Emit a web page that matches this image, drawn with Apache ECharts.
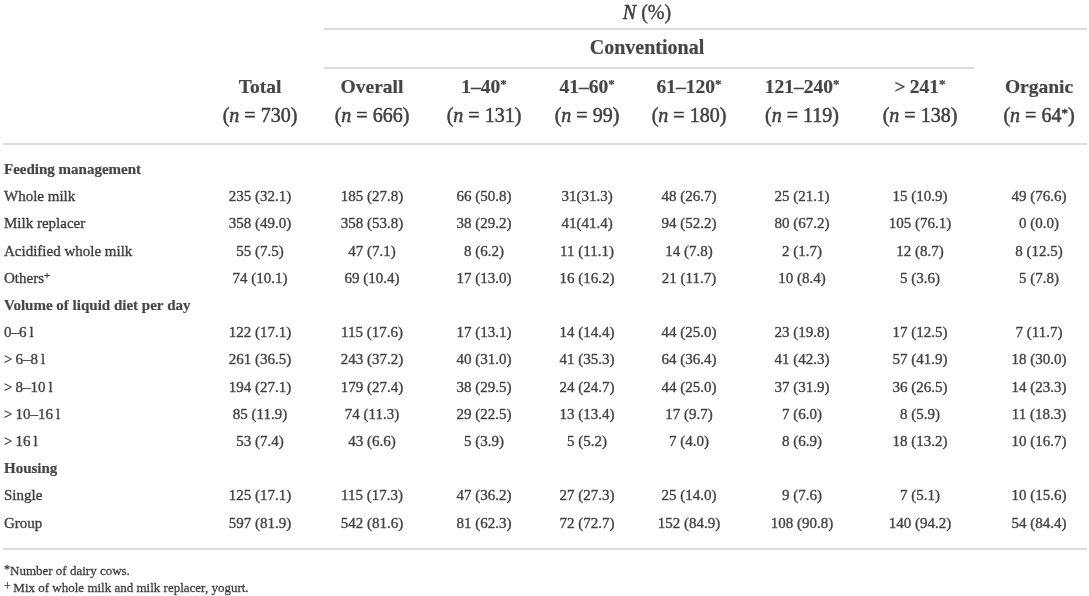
<!DOCTYPE html>
<html>
<head>
<meta charset="utf-8">
<script src="https://cdn.jsdelivr.net/npm/echarts@6/dist/echarts.min.js"></script>
<style>
  html, body { margin: 0; padding: 0; background: #ffffff; }
  #chart { width: 1089px; height: 596px; }
</style>
</head>
<body>
<div id="chart"></div>
<script>
// ---------- DATA ----------
const spanTitle = 'N (%)';
const groupTitle = 'Conventional';
const columnNames = ['Total', 'Overall', '1–40*', '41–60*', '61–120*', '121–240*', '>\u2009241*', 'Organic'];
const columnN = ['730', '666', '131', '99', '180', '119', '138', '64*'];

const sections = ['Feeding management', 'Volume of liquid diet per day', 'Housing'];
const feedingRows = ['Whole milk', 'Milk replacer', 'Acidified whole milk', 'Others+'];
const volumeRows = ['0–6\u2009l', '>\u20096–8\u2009l', '>\u20098–10\u2009l', '>\u200910–16\u2009l', '>\u200916\u2009l'];
const housingRows = ['Single', 'Group'];

const colTotal   = ['235 (32.1)', '358 (49.0)', '55 (7.5)', '74 (10.1)', '122 (17.1)', '261 (36.5)', '194 (27.1)', '85 (11.9)', '53 (7.4)', '125 (17.1)', '597 (81.9)'];
const colOverall = ['185 (27.8)', '358 (53.8)', '47 (7.1)', '69 (10.4)', '115 (17.6)', '243 (37.2)', '179 (27.4)', '74 (11.3)', '43 (6.6)', '115 (17.3)', '542 (81.6)'];
const col1to40   = ['66 (50.8)', '38 (29.2)', '8 (6.2)', '17 (13.0)', '17 (13.1)', '40 (31.0)', '38 (29.5)', '29 (22.5)', '5 (3.9)', '47 (36.2)', '81 (62.3)'];
const col41to60  = ['31(31.3)', '41(41.4)', '11 (11.1)', '16 (16.2)', '14 (14.4)', '41 (35.3)', '24 (24.7)', '13 (13.4)', '5 (5.2)', '27 (27.3)', '72 (72.7)'];
const col61to120 = ['48 (26.7)', '94 (52.2)', '14 (7.8)', '21 (11.7)', '44 (25.0)', '64 (36.4)', '44 (25.0)', '17 (9.7)', '7 (4.0)', '25 (14.0)', '152 (84.9)'];
const col121to240 = ['25 (21.1)', '80 (67.2)', '2 (1.7)', '10 (8.4)', '23 (19.8)', '41 (42.3)', '37 (31.9)', '7 (6.0)', '8 (6.9)', '9 (7.6)', '108 (90.8)'];
const colOver241 = ['15 (10.9)', '105 (76.1)', '12 (8.7)', '5 (3.6)', '17 (12.5)', '57 (41.9)', '36 (26.5)', '8 (5.9)', '18 (13.2)', '7 (5.1)', '140 (94.2)'];
const colOrganic = ['49 (76.6)', '0 (0.0)', '8 (12.5)', '5 (7.8)', '7 (11.7)', '18 (30.0)', '14 (23.3)', '11 (18.3)', '10 (16.7)', '10 (15.6)', '54 (84.4)'];

const footnotes = ['*Number of dairy cows.', '+\u2009Mix of whole milk and milk replacer, yogurt.'];

// ---------- LAYOUT (positions & styles, kept apart from data) ----------
const W = 1089, H = 596;
const colX = [260, 372, 484, 587, 689, 802, 920, 1039];
const labelX = 4;
const firstRowY = 170, rowStep = 27.2;
const headNameY = 88, headNY = 117;
const spanY = 14, groupY = 49, spanX = 647;
const footY = [572, 589];
const FONT = '"Liberation Serif", "Times New Roman", serif';
const INK = '#1a1718';
const RULE = '#d0d0d0';

const columns = [colTotal, colOverall, col1to40, col41to60, col61to120, col121to240, colOver241, colOrganic];

function supify(s, size) {
  return s.replace(/([*+])/g, '{' + size + '|$1}');
}

const items = [];
function addText(x, y, text, opts) {
  items.push({
    value: [x, y],
    label: Object.assign({
      show: true,
      position: 'inside',
      align: 'center',
      verticalAlign: 'middle',
      formatter: text,
      fontFamily: FONT,
      fontSize: 15,
      color: INK,
      textBorderColor: INK,
      textBorderWidth: 0.35
    }, opts || {})
  });
}

// body rows
const blocks = [[sections[0], feedingRows], [sections[1], volumeRows], [sections[2], housingRows]];
let lineIdx = 0, dataIdx = 0;
blocks.forEach(([title, rows]) => {
  addText(labelX, firstRowY + lineIdx * rowStep, title, { align: 'left', fontWeight: 'bold', textBorderWidth: 0.2 });
  lineIdx++;
  rows.forEach(r => {
    const y = firstRowY + lineIdx * rowStep;
    addText(labelX, y, supify(r, 'sb'), { align: 'left' });
    columns.forEach((col, c) => addText(colX[c], y, col[dataIdx]));
    lineIdx++; dataIdx++;
  });
});

// column headers
columnNames.forEach((nm, c) => {
  addText(colX[c], headNameY, supify(nm, 'sh'), { fontSize: 19.5, fontWeight: 'bold', textBorderWidth: 0.2 });
  addText(colX[c], headNY, '({i|n} = ' + supify(columnN[c], 'sn') + ')', { fontSize: 20, textBorderWidth: 0.5 });
});
addText(spanX, spanY, '{i|N} (%)', { fontSize: 20, textBorderWidth: 0.4 });
addText(spanX, groupY, groupTitle, { fontSize: 20, fontWeight: 'bold', textBorderWidth: 0.2 });

// footnotes
footnotes.forEach((f, i) => {
  addText(labelX, footY[i], supify(f, 'sf'), { align: 'left', fontSize: 13, textBorderWidth: 0.3 });
});

const rich = {
  i:  { fontStyle: 'italic', fontFamily: FONT, fontSize: 20, color: INK, textBorderColor: INK, textBorderWidth: 0.5 },
  sb: { fontSize: 11, fontFamily: FONT, color: INK, padding: [0, 0, 6, 0] },
  sh: { fontSize: 13, fontFamily: FONT, color: INK, fontWeight: 'bold', padding: [0, 0, 6, 0] },
  sn: { fontSize: 13, fontFamily: FONT, color: INK, padding: [0, 0, 6, 0] },
  sf: { fontSize: 12, fontFamily: FONT, color: INK, padding: [0, 0, 4, 0] }
};
items.forEach(it => { it.label.rich = rich; });

const rules = [
  [[324, 29], [1087, 29]],
  [[324, 68], [974, 68]],
  [[3, 144], [1087, 144]],
  [[3, 549], [1087, 549]]
];

const chart = echarts.init(document.getElementById('chart'), null, { renderer: 'canvas' });
chart.setOption({
  animation: false,
  backgroundColor: '#ffffff',
  grid: { left: 0, right: 0, top: 0, bottom: 0 },
  xAxis: { type: 'value', min: 0, max: W, show: false },
  yAxis: { type: 'value', min: 0, max: H, inverse: true, show: false },
  series: [{
    type: 'scatter',
    symbolSize: 1,
    itemStyle: { color: 'rgba(0,0,0,0)' },
    silent: true,
    data: items,
    markLine: {
      silent: true,
      symbol: ['none', 'none'],
      label: { show: false },
      lineStyle: { color: RULE, width: 1.5, type: 'solid' },
      data: rules.map(r => [{ coord: r[0] }, { coord: r[1] }])
    }
  }]
});
</script>
</body>
</html>
